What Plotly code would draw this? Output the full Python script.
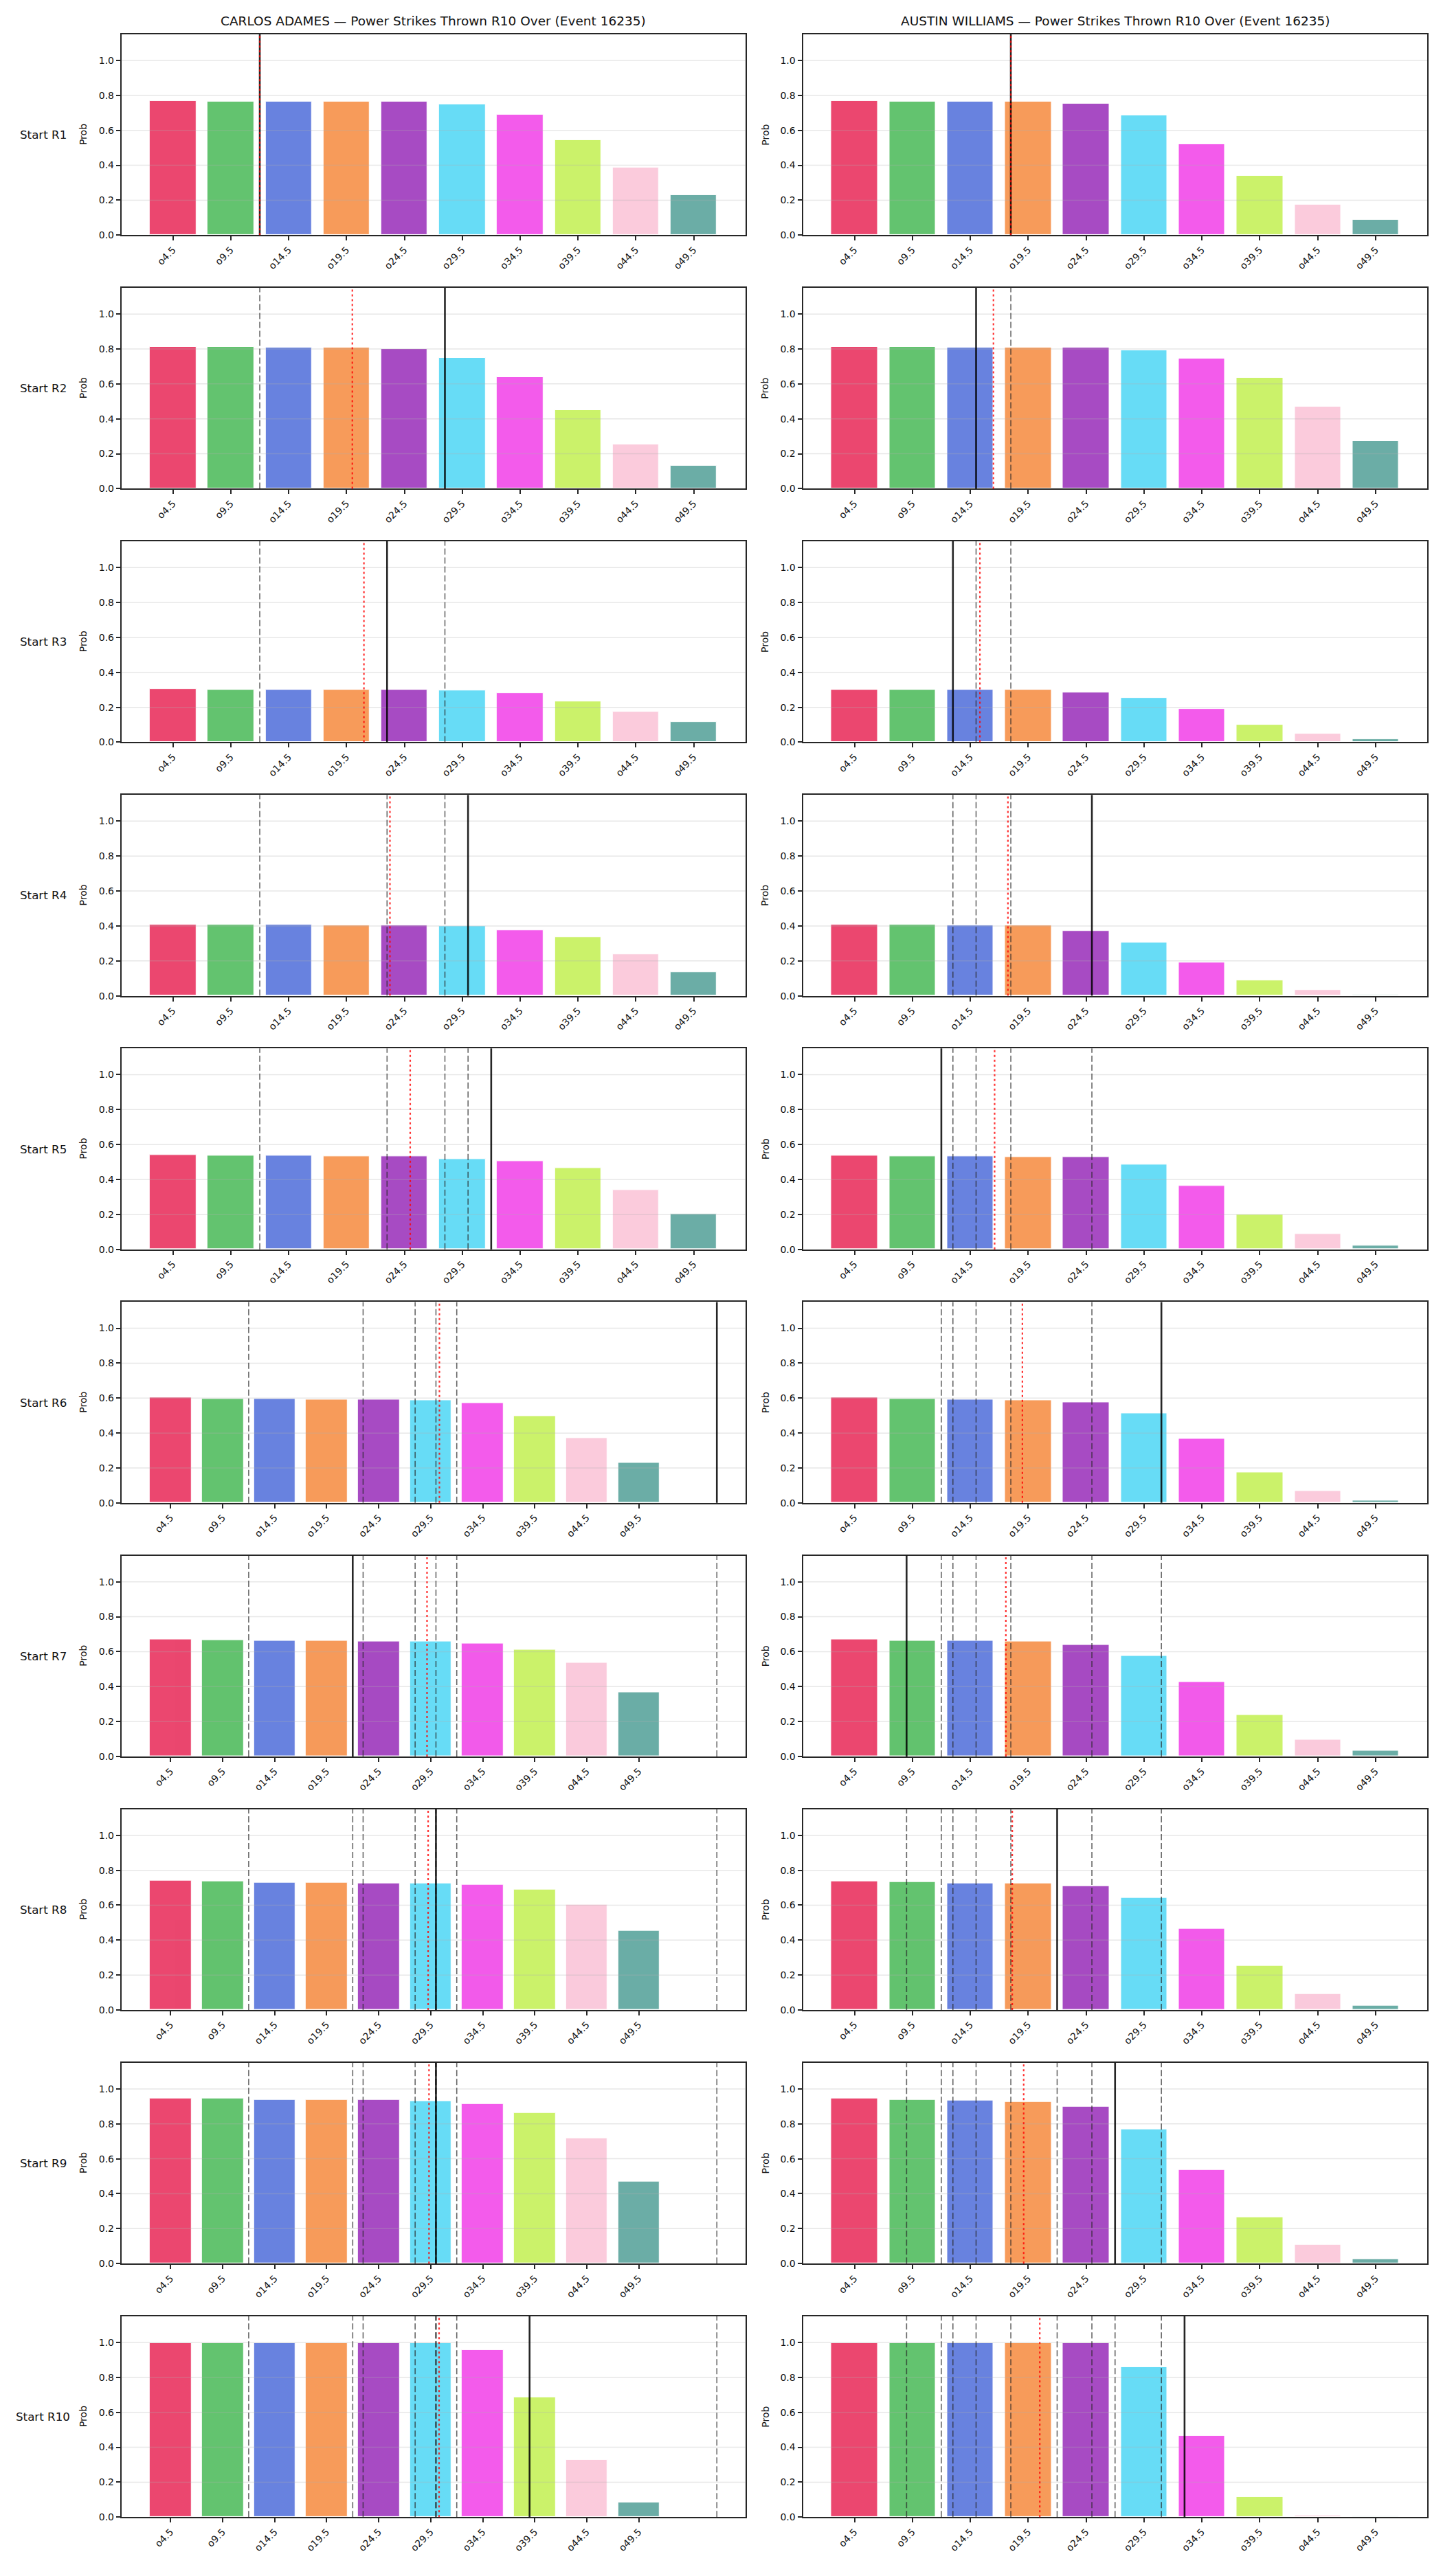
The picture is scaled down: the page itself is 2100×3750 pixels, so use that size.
import plotly.graph_objects as go

# ---------------- data ----------------
PLAYERS = ["CARLOS ADAMES", "AUSTIN WILLIAMS"]
TITLE_SUFFIX = " — Power Strikes Thrown R10 Over (Event 16235)"
TICK_LABELS = ["o4.5", "o9.5", "o14.5", "o19.5", "o24.5", "o29.5", "o34.5", "o39.5", "o44.5", "o49.5"]
THRESHOLDS = [4.5, 9.5, 14.5, 19.5, 24.5, 29.5, 34.5, 39.5, 44.5, 49.5]
ROUND_LABELS = ["Start R1", "Start R2", "Start R3", "Start R4", "Start R5",
                "Start R6", "Start R7", "Start R8", "Start R9", "Start R10"]

# actual power strikes thrown per round (solid black line of that round)
ADAMES_ACTUAL = [12, 28, 23, 30, 32, 57, 22, 30, 30, 39]
WILLIAMS_ACTUAL = [18, 15, 13, 25, 12, 31, 9, 22, 27, 33]

# probability of going over each threshold, by starting round
ADAMES_R1 = [0.769, 0.765, 0.765, 0.765, 0.765, 0.750, 0.691, 0.545, 0.388, 0.231]
ADAMES_R2 = [0.813, 0.813, 0.809, 0.809, 0.798, 0.750, 0.640, 0.451, 0.254, 0.130]
ADAMES_R3 = [0.306, 0.302, 0.299, 0.299, 0.299, 0.295, 0.282, 0.232, 0.176, 0.117]
ADAMES_R4 = [0.408, 0.408, 0.408, 0.404, 0.401, 0.397, 0.377, 0.334, 0.236, 0.137]
ADAMES_R5 = [0.542, 0.538, 0.538, 0.534, 0.531, 0.518, 0.506, 0.464, 0.341, 0.204]
ADAMES_R6 = [0.603, 0.596, 0.596, 0.592, 0.592, 0.588, 0.573, 0.498, 0.372, 0.231]
ADAMES_R7 = [0.669, 0.667, 0.661, 0.661, 0.658, 0.658, 0.647, 0.611, 0.536, 0.369]
ADAMES_R8 = [0.741, 0.738, 0.730, 0.730, 0.724, 0.724, 0.719, 0.691, 0.604, 0.454]
ADAMES_R9 = [0.947, 0.944, 0.936, 0.936, 0.936, 0.928, 0.914, 0.861, 0.717, 0.469]
ADAMES_R10 = [0.997, 0.997, 0.997, 0.997, 0.997, 0.997, 0.958, 0.687, 0.329, 0.085]

WILLIAMS_R1 = [0.769, 0.765, 0.765, 0.765, 0.754, 0.687, 0.522, 0.341, 0.176, 0.089]
WILLIAMS_R2 = [0.813, 0.813, 0.809, 0.809, 0.809, 0.794, 0.746, 0.633, 0.471, 0.271]
WILLIAMS_R3 = [0.302, 0.302, 0.299, 0.299, 0.286, 0.254, 0.191, 0.098, 0.050, 0.019]
WILLIAMS_R4 = [0.408, 0.408, 0.404, 0.401, 0.373, 0.306, 0.191, 0.089, 0.032, 0.007]
WILLIAMS_R5 = [0.538, 0.534, 0.534, 0.527, 0.527, 0.486, 0.362, 0.199, 0.089, 0.022]
WILLIAMS_R6 = [0.603, 0.596, 0.592, 0.588, 0.574, 0.514, 0.368, 0.176, 0.069, 0.014]
WILLIAMS_R7 = [0.669, 0.661, 0.661, 0.658, 0.639, 0.575, 0.428, 0.239, 0.097, 0.031]
WILLIAMS_R8 = [0.738, 0.733, 0.724, 0.724, 0.708, 0.643, 0.465, 0.253, 0.092, 0.025]
WILLIAMS_R9 = [0.944, 0.936, 0.933, 0.925, 0.897, 0.767, 0.536, 0.264, 0.106, 0.025]
WILLIAMS_R10 = [0.997, 0.997, 0.997, 0.997, 0.997, 0.860, 0.467, 0.117, 0.010, 0.007]

ADAMES_ROUNDS = [ADAMES_R1, ADAMES_R2, ADAMES_R3, ADAMES_R4, ADAMES_R5,
                 ADAMES_R6, ADAMES_R7, ADAMES_R8, ADAMES_R9, ADAMES_R10]
WILLIAMS_ROUNDS = [WILLIAMS_R1, WILLIAMS_R2, WILLIAMS_R3, WILLIAMS_R4, WILLIAMS_R5,
                   WILLIAMS_R6, WILLIAMS_R7, WILLIAMS_R8, WILLIAMS_R9, WILLIAMS_R10]

BAR_COLORS = ["#E6194B", "#3CB44B", "#4363D8", "#F58231", "#911EB4",
              "#42D4F4", "#F032E6", "#BFEF45", "#FABED4", "#469990"]

# ---------------- layout helpers ----------------
W, H = 2100, 3750
FONT = "DejaVu Sans"
TXT = "#111111"
COL_X = [(176.8, 1084.5), (1168.5, 2077.0)]
ROW_TOP0, ROW_STEP, AX_H = 50.0, 369.9, 293.0
PROB_X = [121.0, 1113.6]


def px_x(p):
    return p / W


def px_y(p):
    return 1 - p / H


def to_index(v):
    # map a strike count onto the category index scale of the bars
    return (v - THRESHOLDS[0]) / (THRESHOLDS[1] - THRESHOLDS[0])


fig = go.Figure()
shapes = []
annotations = []

players_data = [(ADAMES_ROUNDS, ADAMES_ACTUAL), (WILLIAMS_ROUNDS, WILLIAMS_ACTUAL)]
idx = 0
for r in range(10):
    top = ROW_TOP0 + ROW_STEP * r
    bot = top + AX_H
    for c in range(2):
        idx += 1
        xa = "x" if idx == 1 else f"x{idx}"
        ya = "y" if idx == 1 else f"y{idx}"
        rounds, actual = players_data[c]
        vals = rounds[r]
        xs = list(range(len(TICK_LABELS)))
        fig.add_trace(go.Bar(
            x=xs, y=vals, width=0.8,
            marker=dict(color=BAR_COLORS, opacity=0.8, line=dict(color="white", width=1)),
            xaxis=xa, yaxis=ya, showlegend=False, hoverinfo="skip",
        ))
        prev = [to_index(v) for v in actual[:r]]
        cur = to_index(actual[r])
        mean = to_index(sum(actual[:r + 1]) / (r + 1))
        allx = prev + [cur, mean]
        lo = min(-0.4, min(allx))
        hi = max(9.4, max(allx))
        pad = 0.05 * (hi - lo)
        xrange_ = [lo - pad, hi + pad]

        x0p, x1p = COL_X[c]
        xaxis_cfg = dict(
            domain=[px_x(x0p), px_x(x1p)], anchor=ya, range=xrange_,
            tickmode="array", tickvals=xs, ticktext=TICK_LABELS, tickangle=-45,
            ticks="outside", ticklen=6, tickwidth=1.5, tickcolor="#262626",
            showline=True, mirror=True, linecolor="#262626", linewidth=2,
            showgrid=False, zeroline=False,
            tickfont=dict(family=FONT, size=14, color=TXT),
        )
        yaxis_cfg = dict(
            domain=[px_y(bot), px_y(top)], anchor=xa, range=[0, 1.15],
            tickmode="array", tickvals=[0, 0.2, 0.4, 0.6, 0.8, 1.0],
            ticktext=["0.0", "0.2", "0.4", "0.6", "0.8", "1.0"],
            ticks="outside", ticklen=6, tickwidth=1.5, tickcolor="#262626",
            showline=True, mirror=True, linecolor="#262626", linewidth=2,
            showgrid=False, zeroline=False,
            tickfont=dict(family=FONT, size=14, color=TXT),
        )
        fig.update_layout({("xaxis" if idx == 1 else f"xaxis{idx}"): xaxis_cfg,
                           ("yaxis" if idx == 1 else f"yaxis{idx}"): yaxis_cfg})
        # grid (drawn above bars, as in the source)
        for gy in [0.2, 0.4, 0.6, 0.8, 1.0]:
            shapes.append(dict(type="line", xref=f"{xa} domain", yref=ya,
                               x0=0, x1=1, y0=gy, y1=gy, layer="above",
                               line=dict(color="rgba(176,176,176,0.3)", width=1.5)))
        for px_ in prev:
            shapes.append(dict(type="line", xref=xa, yref=f"{ya} domain",
                               x0=px_, x1=px_, y0=0, y1=1, layer="above",
                               line=dict(color="rgba(40,40,40,0.7)", width=1.6, dash="9px,4px")))
        shapes.append(dict(type="line", xref=xa, yref=f"{ya} domain",
                           x0=cur, x1=cur, y0=0, y1=1, layer="above",
                           line=dict(color="rgba(0,0,0,0.85)", width=2.6)))
        shapes.append(dict(type="line", xref=xa, yref=f"{ya} domain",
                           x0=mean, x1=mean, y0=0, y1=1, layer="above",
                           line=dict(color="rgba(255,0,0,0.8)", width=2.2, dash="3px,4px")))
        # y label
        annotations.append(dict(text="Prob", xref="paper", yref="paper",
                                x=px_x(PROB_X[c]), y=px_y((top + bot) / 2),
                                xanchor="center", yanchor="middle", textangle=-90,
                                showarrow=False, font=dict(family=FONT, size=14, color=TXT)))
        if c == 0:
            annotations.append(dict(text=ROUND_LABELS[r], xref="paper", yref="paper",
                                    x=px_x(62.5), y=px_y((top + bot) / 2),
                                    xanchor="center", yanchor="middle",
                                    showarrow=False, font=dict(family=FONT, size=16.7, color=TXT)))
        if r == 0:
            annotations.append(dict(text=PLAYERS[c] + TITLE_SUFFIX, xref="paper", yref="paper",
                                    x=px_x((x0p + x1p) / 2), y=px_y(31),
                                    xanchor="center", yanchor="middle",
                                    showarrow=False, font=dict(family=FONT, size=18.5, color=TXT)))

fig.update_layout(
    width=W, height=H, margin=dict(l=0, r=0, t=0, b=0),
    paper_bgcolor="white", plot_bgcolor="white",
    shapes=shapes, annotations=annotations, bargap=0,
    font=dict(family=FONT, color=TXT),
)

fig.write_html("out.html")
